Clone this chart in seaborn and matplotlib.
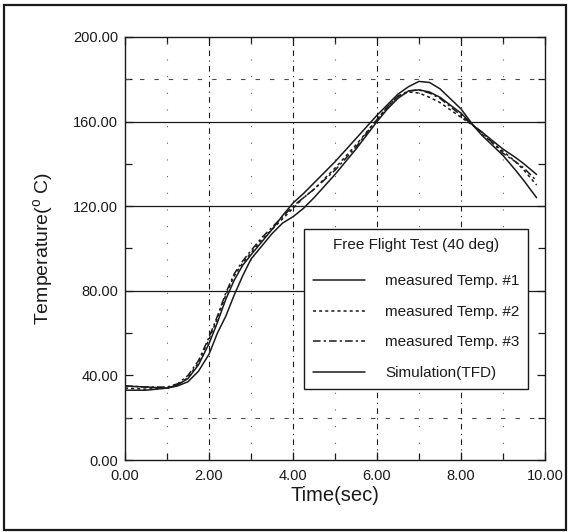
import matplotlib
matplotlib.use("Agg")
import matplotlib.pyplot as plt
from matplotlib.patches import Rectangle
from matplotlib.lines import Line2D
from matplotlib.ticker import MultipleLocator
import pandas as pd
import seaborn as sns

# Free flight test (40 deg): thermocouple readings vs. TFD simulation
time = [0.0, 0.5, 1.0, 1.25, 1.5, 1.75, 2.0, 2.2, 2.4, 2.6, 2.8, 3.0, 3.25, 3.5,
        3.75, 4.0, 4.25, 4.5, 5.0, 5.5, 6.0, 6.25, 6.5, 6.75, 7.0, 7.25, 7.5,
        8.0, 8.3, 8.5, 9.0, 9.3, 9.5, 9.8]
temp_meas1 = [35, 34.5, 34, 35, 37, 42, 50, 60, 68, 78, 87, 95, 101, 107,
              112, 115, 119, 124, 135, 147, 160, 166, 171, 174.5, 175, 174, 171.5,
              164, 158, 155, 147, 143, 140, 135]
temp_meas2 = [34, 33.5, 34, 35.5, 39, 46, 57, 67, 78, 87, 93, 98, 104, 109,
              114, 119, 124, 128, 138, 149, 161, 167, 172, 174, 173.5, 171.5, 169,
              162, 158, 154, 146, 141, 137, 130]
temp_meas3 = [35, 34.5, 34.5, 36, 40, 47, 58, 68, 79, 88, 94, 99, 105, 110,
              115, 120, 124, 128, 137, 148, 161, 167, 172, 174.5, 175, 173.5, 171,
              163, 158, 155, 145, 141, 138, 132]
temp_sim = [33, 33, 34, 35.5, 38.5, 45, 55, 65, 76, 85, 92, 97, 103, 109,
            115.5, 121.5, 126, 131, 141, 152, 163, 168, 173, 176.5, 179, 178.5, 175.5,
            166, 158, 153.5, 144, 137, 132, 124]

series_names = ["measured Temp. #1", "measured Temp. #2", "measured Temp. #3", "Simulation(TFD)"]
series_values = [temp_meas1, temp_meas2, temp_meas3, temp_sim]
x_ticks = [0, 2, 4, 6, 8, 10]
y_ticks = [0, 40, 80, 120, 160, 200]

sns.set_theme(style="ticks")
plt.rcParams["font.family"] = ["Liberation Sans", "DejaVu Sans"]
plt.rcParams["mathtext.fontset"] = "custom"
plt.rcParams["mathtext.rm"] = "Liberation Sans"
plt.rcParams["mathtext.it"] = "Liberation Sans:italic"

frames = [pd.DataFrame({"Time": time, "Temp": v, "Series": n})
          for n, v in zip(series_names, series_values)]
df = pd.concat(frames, ignore_index=True)

dash_map = {
    "measured Temp. #1": "",
    "measured Temp. #2": (2, 2),
    "measured Temp. #3": (5, 2, 1.5, 2),
    "Simulation(TFD)": "",
}

fig = plt.figure(figsize=(5.69, 5.32), dpi=100)
ax = fig.add_axes([125 / 569, 1 - 460 / 532, 420 / 569, 423 / 532])

# grid: solid horizontal majors, dashed vertical majors, sparse dotted minors
for yv in [80, 120, 160]:
    ax.axhline(yv, color="k", lw=0.9, zorder=1)
for yv in [20, 180]:
    ax.axhline(yv, color="0.3", lw=0.8, ls=(0, (4, 9)), zorder=1)
for xv in [2, 4, 6, 8]:
    ax.axvline(xv, color="k", lw=0.8, ls=(0, (5, 4, 1, 4)), zorder=1)
for xv in [1, 3, 5, 7, 9]:
    ax.axvline(xv, color="0.4", lw=0.8, ls=(0, (1, 14)), zorder=1)

sns.lineplot(data=df, x="Time", y="Temp", hue="Series", style="Series",
             palette=["k"] * 4, dashes=dash_map, linewidth=1.1, legend=False,
             sort=False, estimator=None, ax=ax, zorder=3)

ax.set_xlim(0, 10)
ax.set_ylim(0, 200)
ax.set_xticks(x_ticks)
ax.set_yticks(y_ticks)
ax.set_xticklabels([f"{v:.2f}" for v in x_ticks])
ax.set_yticklabels([f"{v:.2f}" for v in y_ticks])
ax.xaxis.set_minor_locator(MultipleLocator(1))
ax.yaxis.set_minor_locator(MultipleLocator(20))
ax.tick_params(which="both", direction="in", top=True, right=True,
               color="k", width=0.9)
ax.tick_params(which="major", length=6, labelsize=10.5, labelcolor="k")
ax.tick_params(which="minor", length=5)
ax.tick_params(axis="x", pad=6.5)
ax.tick_params(axis="y", pad=5)
for s in ax.spines.values():
    s.set_color("k")
    s.set_linewidth(1.0)

ax.set_xlabel("Time(sec)", fontsize=14.5, color="k", labelpad=2)
ax.set_ylabel("Temperature($^{\\mathrm{o}}$ C)", fontsize=14, color="k", labelpad=13)

handles = [Line2D([], [], color="k", lw=1.1, ls="-"),
           Line2D([], [], color="k", lw=1.1, ls=(0, (2, 2))),
           Line2D([], [], color="k", lw=1.1, ls=(0, (5, 2, 1.5, 2))),
           Line2D([], [], color="k", lw=1.1, ls="-")]
leg = ax.legend(handles, series_names, title="Free Flight Test (40 deg)",
                loc="upper left", bbox_to_anchor=(0.426, 0.546), borderaxespad=0,
                fontsize=11, title_fontsize=11, frameon=True, fancybox=False,
                edgecolor="k", framealpha=1, labelspacing=1.08,
                handlelength=3.4, handletextpad=1.3, borderpad=0.6)
# wider gap between the title and the first entry
leg._legend_box.sep = 16.0
leg.get_frame().set_linewidth(1.0)
leg.get_title().set_color("k")
for t in leg.get_texts():
    t.set_color("k")
leg.set_zorder(5)

# outer frame around the whole figure
fig.add_artist(Rectangle((4 / 569, 2 / 532), 562 / 569, 525 / 532,
                         transform=fig.transFigure, fill=False, lw=1.6, ec="k"))

fig.savefig("out.png", dpi=100, facecolor="white")
